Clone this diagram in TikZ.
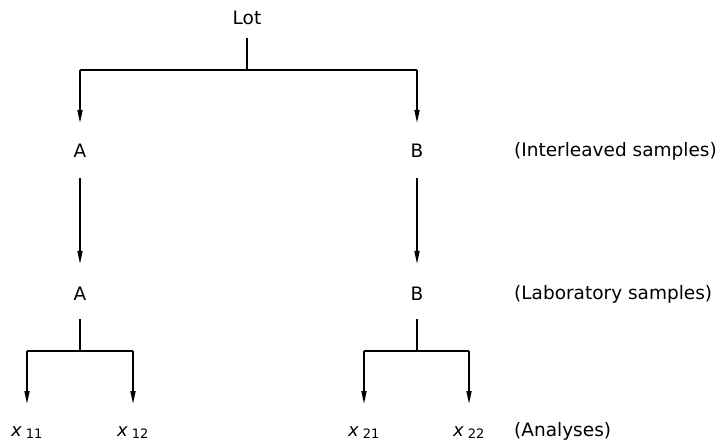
\documentclass[tikz,border=0pt]{standalone}
\usepackage{fontspec}
\setmainfont{DejaVu Sans}
\usetikzlibrary{arrows.meta}
\begin{document}
\begin{tikzpicture}[x=1pt,y=-1pt,
  lbl/.style={inner sep=0pt,font=\fontsize{18.5}{22}\selectfont},
  conn/.style={line width=1.6pt},
  arr/.style={conn,-{Triangle[length=13pt,width=5pt]}},
  xl/.style={inner sep=0pt,anchor=base west,font=\fontsize{18}{22}\selectfont}]
\useasboundingbox (0,0) rectangle (720,443);
\node[lbl] (lot) at (247,18) {Lot};
\node[lbl] (A1) at (80,151) {A};
\node[lbl] (B1) at (417,151) {B};
\node[lbl] (A2) at (80,294) {A};
\node[lbl] (B2) at (417,294) {B};
\node[lbl,anchor=west] (il) at (514,151) {(Interleaved samples)};
\node[lbl,anchor=west] (ls) at (514,294) {(Laboratory samples)};
\node[lbl,anchor=west] (an) at (514,431) {(Analyses)};
\newcommand{\xsub}[1]{{\itshape x}\hspace{4pt}\raisebox{-2pt}{\fontsize{13}{15}\selectfont #1}}
\node[xl] (x11) at (11,436) {\xsub{11}};
\node[xl] (x12) at (117,436) {\xsub{12}};
\node[xl] (x21) at (348,436) {\xsub{21}};
\node[xl] (x22) at (453,436) {\xsub{22}};
% top split
\coordinate (t0) at (247,38);
\coordinate (tj) at (247,70);
\coordinate (tl) at (80,70);
\coordinate (tr) at (417,70);
\coordinate (a1t) at (80,123);
\coordinate (b1t) at (417,123);
\draw[conn] (t0) -- (tj);
\draw[conn] (tl) -- (tr);
\draw[arr] (tl) -- (a1t);
\draw[arr] (tr) -- (b1t);
% middle arrows
\coordinate (a1s) at (80,178);
\coordinate (a2e) at (80,264);
\coordinate (b1s) at (417,178);
\coordinate (b2e) at (417,264);
\draw[arr] (a1s) -- (a2e);
\draw[arr] (b1s) -- (b2e);
% lower splits
\coordinate (a2s) at (80,319);
\coordinate (a2j) at (80,351);
\coordinate (a2l) at (27,351);
\coordinate (a2r) at (133,351);
\coordinate (x11t) at (27,404);
\coordinate (x12t) at (133,404);
\draw[conn] (a2s) -- (a2j);
\draw[conn] (a2l) -- (a2r);
\draw[arr] (a2l) -- (x11t);
\draw[arr] (a2r) -- (x12t);
\coordinate (b2s) at (417,319);
\coordinate (b2j) at (417,351);
\coordinate (b2l) at (364,351);
\coordinate (b2r) at (469,351);
\coordinate (x21t) at (364,404);
\coordinate (x22t) at (469,404);
\draw[conn] (b2s) -- (b2j);
\draw[conn] (b2l) -- (b2r);
\draw[arr] (b2l) -- (x21t);
\draw[arr] (b2r) -- (x22t);
\end{tikzpicture}
\end{document}
